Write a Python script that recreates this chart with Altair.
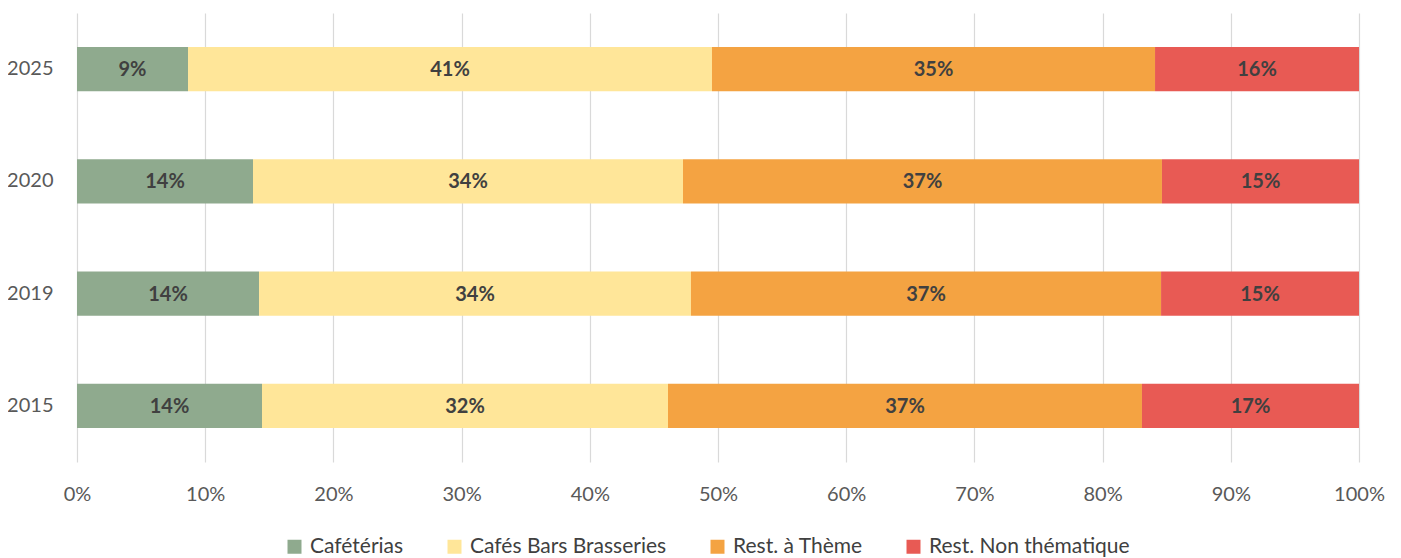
import altair as alt
import pandas as pd

years = ["2025", "2020", "2019", "2015"]
categories = ["Cafétérias", "Cafés Bars Brasseries", "Rest. à Thème", "Rest. Non thématique"]
cafeterias = [8.66, 13.73, 14.20, 14.43]
cafes_bars = [40.87, 33.54, 33.69, 31.67]
rest_theme = [34.56, 37.36, 36.67, 36.97]
rest_non = [15.91, 15.37, 15.44, 16.93]
x_ticks = [0, 0.1, 0.2, 0.3, 0.4, 0.5, 0.6, 0.7, 0.8, 0.9, 1.0]
colors = ["#8FAA8E", "#FFE699", "#F4A342", "#E85A54"]

rows = []
series = [cafeterias, cafes_bars, rest_theme, rest_non]
for ci, (cat, vals) in enumerate(zip(categories, series)):
    for y, v in zip(years, vals):
        rows.append({"year": y, "cat": cat, "order": ci, "value": v})
df = pd.DataFrame(rows)

FONT = "Lato"

base = alt.Chart(df).transform_stack(
    stack="value", groupby=["year"], as_=["x0", "x1"],
    sort=[alt.SortField("order", order="ascending")], offset="normalize"
).transform_calculate(
    mid="(datum.x0 + datum.x1) / 2",
    label="format(datum.value / 100, '.0%')"
)

ysc = alt.Scale(domain=years, paddingInner=0.605, paddingOuter=0.3025)

bars = base.mark_bar().encode(
    x=alt.X("x0:Q", scale=alt.Scale(domain=[0, 1], nice=False),
            axis=alt.Axis(values=x_ticks, format=".0%", title=None, grid=True,
                          gridColor="#D9D9D9", gridWidth=1.2, domain=False, ticks=False,
                          tickSize=0, labelPadding=22, labelFontSize=20,
                          labelColor="#595959", labelFont=FONT, labelFlush=False,
                          labelOverlap=False)),
    x2="x1:Q",
    y=alt.Y("year:N", scale=ysc, sort=years,
            axis=alt.Axis(title=None, domain=False, ticks=False, tickSize=0,
                          labelPadding=24, labelFontSize=20, labelColor="#595959",
                          labelFont=FONT, grid=False)),
    color=alt.Color("cat:N", scale=alt.Scale(domain=categories, range=colors),
                    legend=alt.Legend(title=None, orient="none", direction="horizontal",
                                      legendX=207, legendY=523, symbolType="square",
                                      symbolSize=196, symbolStrokeWidth=0,
                                      labelFontSize=21, labelColor="#404040",
                                      labelFont=FONT, labelOffset=5, columnPadding=40,
                                      labelLimit=400, columns=4)),
    order=alt.Order("order:Q")
)

texts = base.mark_text(font=FONT, fontSize=20, fontWeight="bold", color="#404040",
                       dy=1).encode(
    x="mid:Q",
    y=alt.Y("year:N", scale=ysc, sort=years),
    text="label:N"
)

chart = (bars + texts).properties(
    width=1282, height=449,
    autosize=alt.AutoSizeParams(type="none"),
    padding={"left": 69, "top": 5, "right": 30, "bottom": 96}
).configure_view(stroke=None)

chart.save("out.html", embed_options={"renderer": "svg", "actions": False})
